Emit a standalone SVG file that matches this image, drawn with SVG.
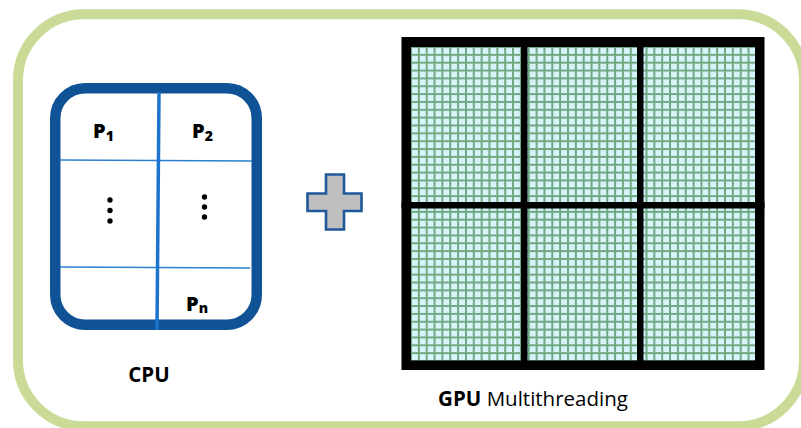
<svg xmlns="http://www.w3.org/2000/svg" width="801" height="428" viewBox="0 0 801 428">
  <style>
    .frame { fill: none; stroke: #c9db97; stroke-width: 10; }
    .cpu-box { fill: #ffffff; stroke: #0f5296; stroke-width: 10.5; }
    .cpu-split { stroke: #1c74cc; stroke-width: 3.5; fill: none; }
    .cpu-row { stroke: #2c7fd0; stroke-width: 1.6; fill: none; }
    .dot { fill: #000000; }
    .plabel { font-family: "Open Sans", "Liberation Sans", sans-serif; font-weight: 800; font-size: 20px; fill: #000000; }
    .sub { font-size: 14px; }
    .plus { fill: #bfbfbf; stroke: #1f5899; stroke-width: 2.6; stroke-linejoin: miter; }
    .gpu-bar { fill: #000000; }
    .caption { font-family: "Open Sans", "Liberation Sans", sans-serif; font-size: 20.5px; fill: #000000; }
    .bold { font-weight: 700; }
  </style>
  <defs>
    <!-- fine thread grid used inside every GPU block -->
    <pattern id="threads" patternUnits="userSpaceOnUse" x="410" y="46" width="7.85" height="7.85">
      <rect width="7.85" height="7.85" fill="#d6f4fb"/>
      <rect width="2" height="7.85" fill="#6fa883"/>
      <rect width="7.85" height="2" fill="#6fa883"/>
    </pattern>
  </defs>

  <rect width="801" height="428" fill="#ffffff"/>

  <!-- outer rounded frame -->
  <rect id="frame" class="frame" x="18" y="14.3" width="786" height="412" rx="66" ry="66"/>

  <!-- CPU -->
  <g id="cpu">
    <rect class="cpu-box" x="55.25" y="88.25" width="201.5" height="236.5" rx="30" ry="30"/>
    <line class="cpu-row" x1="60" y1="160" x2="252" y2="161"/>
    <line class="cpu-row" x1="60" y1="267" x2="250" y2="268"/>
    <line class="cpu-split" x1="159" y1="92" x2="157" y2="330"/>
    <text class="plabel" x="93" y="138">P<tspan class="sub" dy="3">1</tspan></text>
    <text class="plabel" x="192" y="138">P<tspan class="sub" dy="3">2</tspan></text>
    <text class="plabel" x="186" y="311">P<tspan class="sub" dy="2">n</tspan></text>
    <circle class="dot" cx="110" cy="200" r="2.7"/>
    <circle class="dot" cx="110" cy="210.5" r="2.7"/>
    <circle class="dot" cx="110" cy="221" r="2.7"/>
    <circle class="dot" cx="204.5" cy="197" r="2.7"/>
    <circle class="dot" cx="204.5" cy="207" r="2.7"/>
    <circle class="dot" cx="204.5" cy="217" r="2.7"/>
    <text class="caption bold" x="149" y="382" text-anchor="middle">CPU</text>
  </g>

  <!-- plus sign -->
  <g id="plus">
    <polygon class="plus" points="326,174.5 344,174.5 344,193.5 361.5,193.5 361.5,211 344,211 344,229.5 326,229.5 326,211 307.5,211 307.5,193.5 326,193.5"/>
  </g>

  <!-- GPU: 2 x 3 blocks of threads -->
  <g id="gpu">
    <rect x="401.5" y="37" width="363" height="333" fill="#000000"/>
    <rect x="411" y="47" width="344" height="313.5" fill="url(#threads)"/>
    <rect class="gpu-bar" x="521" y="37" width="6.5" height="333"/>
    <rect class="gpu-bar" x="637" y="37" width="6.5" height="333"/>
    <rect class="gpu-bar" x="401.5" y="202" width="363" height="6.5"/>
    <text class="caption" x="533" y="406" text-anchor="middle"><tspan class="bold">GPU</tspan> Multithreading</text>
  </g>
</svg>
